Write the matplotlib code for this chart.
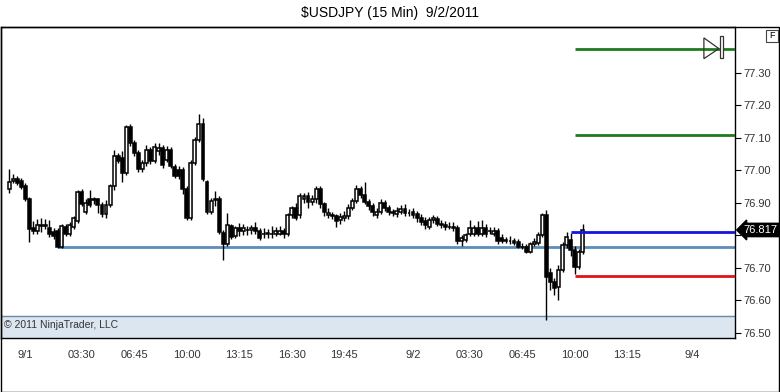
import matplotlib
matplotlib.use("Agg")
import matplotlib.pyplot as plt
from matplotlib.patches import Rectangle, Polygon
import numpy as np
import pandas as pd

plt.rcParams['font.family'] = ['Liberation Sans Narrow', 'Liberation Sans', 'DejaVu Sans']

# 15 min bars, first bar 8/31 23:00, last bar 9/2 10:30
start = pd.Timestamp("2011-08-31 23:00")

opens = [
    76.943, 76.968, 76.974, 76.968, 76.952, 76.912, 76.823, 76.814, 76.829, 76.829,
    76.823, 76.811, 76.814, 76.765, 76.826, 76.805, 76.826, 76.845, 76.934, 76.872,
    76.912, 76.912, 76.912, 76.894, 76.866, 76.894, 76.952, 77.045, 77.038, 76.992,
    77.134, 77.085, 77.054, 77.005, 77.023, 77.063, 77.029, 77.060, 77.069, 77.032,
    77.063, 77.011, 77.002, 77.002, 76.943, 76.854, 77.023, 77.094, 77.143, 76.965,
    76.872, 76.909, 76.912, 76.808, 76.774, 76.829, 76.798, 76.823, 76.814, 76.817,
    76.817, 76.823, 76.814, 76.805, 76.805, 76.805, 76.805, 76.805, 76.814, 76.805,
    76.863, 76.885, 76.863, 76.912, 76.922, 76.903, 76.912, 76.943, 76.897, 76.863,
    76.860, 76.860, 76.848, 76.854, 76.860, 76.885, 76.906, 76.943, 76.925, 76.903,
    76.891, 76.863, 76.872, 76.900, 76.885, 76.872, 76.866, 76.872, 76.882, 76.869,
    76.872, 76.866, 76.854, 76.845, 76.826, 76.848, 76.851, 76.835, 76.832, 76.826,
    76.826, 76.823, 76.783, 76.786, 76.805, 76.805, 76.823, 76.805, 76.823, 76.814,
    76.805, 76.814, 76.792, 76.786, 76.783, 76.783, 76.780, 76.765, 76.765, 76.749,
    76.774, 76.777, 76.802, 76.863, 76.685, 76.657, 76.642, 76.694, 76.771, 76.786,
    76.755, 76.703, 76.749,
]
highs = [
    77.005, 76.989, 76.983, 76.977, 76.962, 76.918, 76.845, 76.851, 76.854, 76.851,
    76.848, 76.823, 76.823, 76.835, 76.835, 76.842, 76.860, 76.940, 76.943, 76.912,
    76.940, 76.918, 76.915, 76.903, 76.909, 76.958, 77.063, 77.054, 77.060, 77.140,
    77.143, 77.094, 77.063, 77.032, 77.078, 77.072, 77.085, 77.085, 77.078, 77.075,
    77.072, 77.020, 77.014, 77.011, 76.952, 77.032, 77.103, 77.174, 77.162, 76.971,
    76.915, 76.937, 76.922, 76.817, 76.869, 76.835, 76.829, 76.838, 76.835, 76.829,
    76.832, 76.842, 76.823, 76.823, 76.820, 76.829, 76.826, 76.829, 76.823, 76.869,
    76.891, 76.900, 76.931, 76.931, 76.934, 76.925, 76.952, 76.952, 76.903, 76.885,
    76.872, 76.866, 76.869, 76.875, 76.897, 76.915, 76.955, 76.952, 76.965, 76.912,
    76.900, 76.885, 76.912, 76.909, 76.894, 76.882, 76.888, 76.894, 76.897, 76.882,
    76.885, 76.875, 76.866, 76.857, 76.857, 76.863, 76.860, 76.848, 76.845, 76.842,
    76.842, 76.832, 76.802, 76.808, 76.848, 76.832, 76.845, 76.848, 76.835, 76.826,
    76.826, 76.823, 76.805, 76.795, 76.798, 76.792, 76.789, 76.777, 76.774, 76.780,
    76.792, 76.811, 76.869, 76.878, 76.700, 76.669, 76.709, 76.780, 76.811, 76.808,
    76.768, 76.758, 76.835,
]
lows = [
    76.931, 76.962, 76.955, 76.943, 76.906, 76.780, 76.805, 76.805, 76.811, 76.820,
    76.795, 76.789, 76.762, 76.762, 76.798, 76.798, 76.820, 76.838, 76.891, 76.866,
    76.888, 76.897, 76.869, 76.857, 76.854, 76.888, 76.940, 77.023, 76.965, 76.986,
    77.075, 77.045, 76.995, 76.995, 77.014, 77.020, 77.023, 77.048, 77.008, 77.026,
    77.008, 76.977, 76.974, 76.928, 76.848, 76.848, 77.017, 77.088, 76.968, 76.866,
    76.866, 76.891, 76.805, 76.725, 76.768, 76.789, 76.792, 76.798, 76.802, 76.802,
    76.805, 76.805, 76.786, 76.792, 76.792, 76.792, 76.798, 76.802, 76.792, 76.798,
    76.854, 76.848, 76.854, 76.900, 76.885, 76.894, 76.900, 76.885, 76.860, 76.854,
    76.851, 76.826, 76.835, 76.845, 76.851, 76.878, 76.900, 76.915, 76.897, 76.878,
    76.860, 76.854, 76.866, 76.875, 76.863, 76.860, 76.857, 76.866, 76.860, 76.860,
    76.854, 76.842, 76.832, 76.820, 76.820, 76.838, 76.829, 76.823, 76.817, 76.820,
    76.814, 76.774, 76.768, 76.780, 76.798, 76.798, 76.798, 76.798, 76.795, 76.805,
    76.798, 76.774, 76.777, 76.777, 76.774, 76.771, 76.762, 76.758, 76.746, 76.746,
    76.768, 76.771, 76.795, 76.540, 76.632, 76.617, 76.602, 76.688, 76.762, 76.737,
    76.680, 76.697, 76.743,
]
closes = [
    76.965, 76.974, 76.962, 76.949, 76.912, 76.820, 76.814, 76.832, 76.832, 76.832,
    76.805, 76.798, 76.765, 76.829, 76.805, 76.832, 76.854, 76.934, 76.897, 76.900,
    76.894, 76.909, 76.894, 76.866, 76.894, 76.952, 77.045, 77.029, 76.992, 77.134,
    77.085, 77.054, 77.005, 77.023, 77.063, 77.029, 77.072, 77.069, 77.017, 77.063,
    77.014, 76.983, 76.983, 76.943, 76.854, 77.023, 77.094, 77.143, 76.974, 76.872,
    76.906, 76.912, 76.811, 76.774, 76.832, 76.795, 76.823, 76.814, 76.823, 76.817,
    76.823, 76.814, 76.792, 76.805, 76.808, 76.805, 76.814, 76.814, 76.805, 76.863,
    76.885, 76.854, 76.922, 76.922, 76.903, 76.912, 76.943, 76.897, 76.872, 76.869,
    76.863, 76.845, 76.857, 76.860, 76.885, 76.906, 76.943, 76.925, 76.903, 76.891,
    76.872, 76.872, 76.900, 76.885, 76.872, 76.869, 76.875, 76.882, 76.869, 76.869,
    76.863, 76.854, 76.842, 76.832, 76.848, 76.854, 76.835, 76.832, 76.826, 76.826,
    76.823, 76.783, 76.792, 76.802, 76.823, 76.823, 76.805, 76.823, 76.805, 76.814,
    76.814, 76.783, 76.783, 76.783, 76.783, 76.777, 76.765, 76.765, 76.749, 76.774,
    76.780, 76.802, 76.863, 76.672, 76.657, 76.638, 76.694, 76.771, 76.795, 76.755,
    76.703, 76.749, 76.817,
]

# drawn levels
support = 76.765
blue_level = 76.81
red_level = 76.675
green_mid = 77.11
green_top = 77.375

tick_times = ["2011-09-01 00:00", "2011-09-01 03:30", "2011-09-01 06:45", "2011-09-01 10:00",
              "2011-09-01 13:15", "2011-09-01 16:30", "2011-09-01 19:45", "2011-09-02 00:00",
              "2011-09-02 03:30", "2011-09-02 06:45", "2011-09-02 10:00", "2011-09-02 13:15",
              "2011-09-02 17:15"]
tick_labels = ["9/1", "03:30", "06:45", "10:00", "13:15", "16:30", "19:45",
               "9/2", "03:30", "06:45", "10:00", "13:15", "9/4"]
price_ticks = [76.50, 76.60, 76.70, 76.80, 76.90, 77.00, 77.10, 77.20, 77.30]

o = np.array(opens)
h = np.array(highs)
l = np.array(lows)
c = np.array(closes)
x = np.arange(len(c))
up = c >= o

fig = plt.figure(figsize=(7.8, 3.92), dpi=100)
ax = fig.add_axes([1/780, 54/392, 734/780, 311/392])
xmax = 179.7
ax.set_xlim(-2, xmax)
ax.set_ylim(76.4846, 77.4415)

# shaded zone at the bottom
ax.axhspan(76.40, 76.552, color='#DCE6F1', zorder=0)
ax.axhline(76.552, color='#6C88A6', lw=1, zorder=1)

# candles
ax.vlines(x, l, h, color='black', lw=1, zorder=3)
lo = np.minimum(o, c)
hgt = np.abs(c - o)
ax.bar(x[up], hgt[up], 0.72, bottom=lo[up], color='white', edgecolor='black', lw=1.1, zorder=4)
ax.bar(x[~up], hgt[~up], 0.72, bottom=lo[~up], color='black', edgecolor='black', lw=1.1, zorder=4)

# horizontal lines
ax.hlines(support, 12, xmax, color='#5B8DB8', lw=2, zorder=2)
ax.hlines(blue_level, 139, xmax, color='#1414DC', lw=2, zorder=5)
ax.hlines(red_level, 140, xmax, color='#E01414', lw=2, zorder=5)
ax.hlines(green_mid, 140, xmax, color='#1E7B1E', lw=2, zorder=5)
ax.hlines(green_top, 140, xmax, color='#1E7B1E', lw=2, zorder=5)

# chart trader marker on the top line
ax.add_patch(Polygon([(172, 77.408), (175.7, green_top), (172, 77.344)], closed=True,
                     fill=False, edgecolor='#333333', lw=0.9, zorder=6))
ax.add_patch(Rectangle((176.0, 77.347), 0.8, 0.066, facecolor='white',
                       edgecolor='#333333', lw=0.9, zorder=6))

# axes styling
for s in ax.spines.values():
    s.set_color('black')
    s.set_linewidth(1)
ax.yaxis.tick_right()
ax.set_yticks(price_ticks)
# the 76.80 label sits under the last price box
ax.set_yticklabels(["" if abs(p - 76.80) < 1e-9 else "%.2f" % p for p in price_ticks])
ax.tick_params(axis='y', length=4, width=0.8, pad=2, labelsize=8, labelcolor='#333333')

start_ts = pd.Timestamp(start)
tick_pos = [(pd.Timestamp(t) - start_ts) / pd.Timedelta("15min") for t in tick_times]
ax.set_xticks(tick_pos)
ax.set_xticklabels(tick_labels)
ax.tick_params(axis='x', length=0, pad=9, labelsize=8, labelcolor='#333333')

# last price box
ax.text(1.012, closes[-1], "%.3f" % closes[-1], transform=ax.get_yaxis_transform(),
        ha='left', va='center', fontsize=8, color='white', zorder=10, clip_on=False,
        bbox=dict(boxstyle='larrow,pad=0.15', fc='black', ec='black'))

ax.text(0.004, 0.025, "\u00a9 2011 NinjaTrader, LLC", transform=ax.transAxes,
        fontsize=7.5, color='#333333', ha='left', va='bottom', zorder=6)

fig.text(0.5, 0.967, "$USDJPY (15 Min)  9/2/2011", ha='center', va='center', fontsize=10)

# outer frame and the small F box
fig.add_artist(Rectangle((0.5/780, 0.5/392), 778.5/780, 364.5/392, transform=fig.transFigure,
                         fill=False, edgecolor='black', lw=1))
fig.add_artist(Rectangle((766/780, (392-42)/392), 12/780, 12/392, transform=fig.transFigure,
                         fill=False, edgecolor='#444444', lw=0.8))
fig.text(772/780, (392-36)/392, "F", ha='center', va='center', fontsize=6.5)

fig.savefig("out.png", dpi=100)
